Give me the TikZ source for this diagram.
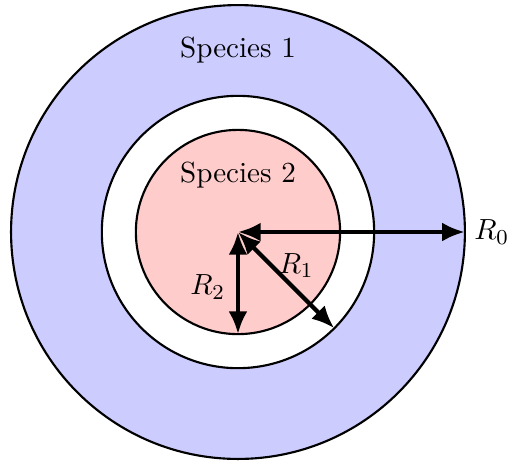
\documentclass[tikz,border=0pt]{standalone}
\usetikzlibrary{arrows.meta}
\begin{document}
\begin{tikzpicture}[
  every node/.style={font=\fontsize{10.95}{13.6}\selectfont},
  ring/.style={draw=black, thick},
  radius arrow/.style={ultra thick, {Latex[length=3mm,width=2.5mm]}-{Latex[length=3mm,width=2.5mm]}}
]
\useasboundingbox (-3.146,-3.054) rectangle (3.596,3.067);
\coordinate (O) at (0,0);
\filldraw[ring, fill=blue!20] (O) circle (3cm);
\filldraw[ring, fill=white] (O) circle (1.8cm);
\filldraw[ring, fill=red!20] (O) circle (1.35cm);
\node (s1) at (0,2.4) {Species 1};
\node (s2) at (0,0.75) {Species 2};
\coordinate (e0) at (3,0);
\coordinate (e1) at (-45:1.8);
\coordinate (e2) at (0,-1.35);
\draw[radius arrow] (O) -- (e0);
\node[anchor=west] (r0) at (e0) {$R_0$};
\draw[radius arrow] (O) -- (e1);
\node (r1) at (0.77,-0.44) {$R_1$};
\draw[radius arrow] (O) -- (e2);
\node (r2) at (-0.40,-0.73) {$R_2$};
\end{tikzpicture}
\end{document}
